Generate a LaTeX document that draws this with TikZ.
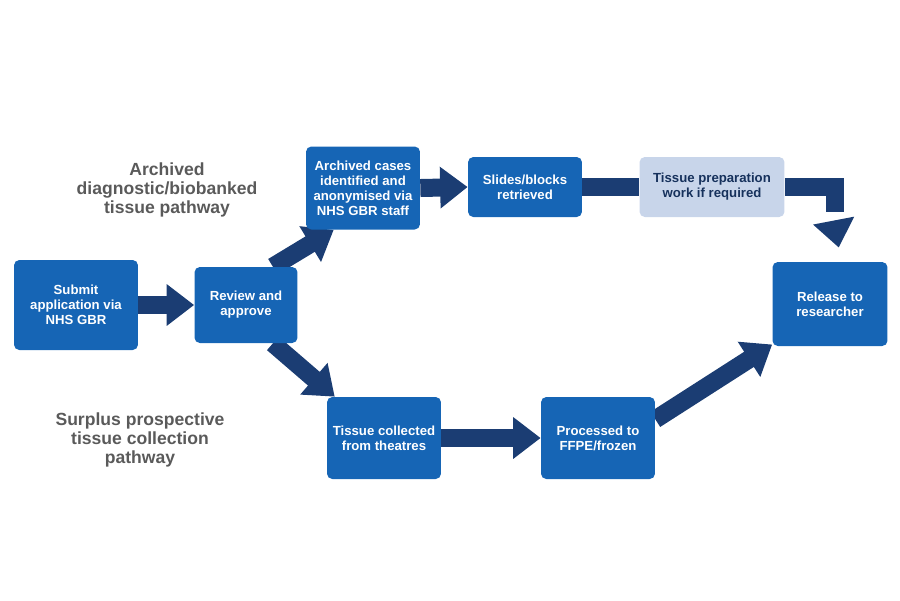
\documentclass[tikz,border=0pt]{standalone}
\usepackage{fontspec}
\setmainfont{Liberation Sans}
\usetikzlibrary{arrows.meta,backgrounds}
\definecolor{boxblue}{HTML}{1665B5}
\definecolor{paleblue}{HTML}{C8D5EA}
\definecolor{navy}{HTML}{1B3D73}
\definecolor{labelgray}{HTML}{5A5A5A}
\tikzset{
  stage/.style={fill=boxblue, text=white, rounded corners=3pt, align=center,
    font=\fontsize{7.5}{8.5}\selectfont\bfseries, inner sep=2pt},
  softstage/.style={stage, fill=paleblue, text=navy!80!black},
  flow/.style={draw=navy, line width=0.36cm,
    -{Triangle[width=0.8cm,length=0.55cm]}},
  flowline/.style={draw=navy, line width=0.36cm},
  pathway/.style={text=labelgray, align=center,
    font=\fontsize{10}{11}\selectfont\bfseries}
}
\begin{document}
\begin{tikzpicture}[x=0.02cm,y=-0.02cm]
\useasboundingbox (0,0) rectangle (900,600);
\node[stage, minimum width=2.48cm, minimum height=1.8cm] (submit) at (76,305)
  {Submit\\application via\\NHS GBR};
\node[stage, minimum width=2.06cm, minimum height=1.52cm] (review) at (246,305)
  {Review and\\approve};
\node[stage, minimum width=2.28cm, minimum height=1.66cm] (archived) at (363,188)
  {Archived cases\\identified and\\anonymised via\\NHS GBR staff};
\node[stage, minimum width=2.28cm, minimum height=1.2cm] (slides) at (525,187)
  {Slides/blocks\\retrieved};
\node[softstage, minimum width=2.9cm, minimum height=1.2cm] (prep) at (712,187)
  {Tissue preparation\\work if required};
\node[stage, minimum width=2.3cm, minimum height=1.68cm] (release) at (830,304)
  {Release to\\researcher};
\node[stage, minimum width=2.28cm, minimum height=1.64cm] (collected) at (384,438)
  {Tissue collected\\from theatres};
\node[stage, minimum width=2.28cm, minimum height=1.64cm] (processed) at (598,438)
  {Processed to\\FFPE/frozen};
\node[pathway] (archivedlabel) at (167,190)
  {Archived\\diagnostic/biobanked\\tissue pathway};
\node[pathway] (surpluslabel) at (140,440)
  {Surplus prospective\\tissue collection\\pathway};
\coordinate (drop) at (835,212);
\begin{scope}[on background layer]
  \draw[flow] (submit.east) -- (review.west);
  \draw[flow] (review.55) -- (archived.235);
  \draw[flow] (archived.east) -- (slides.west);
  \draw[flowline] (slides.east) -- (prep.west);
  \draw[flowline] (prep.east) -| (drop);
  \draw[flow] ([yshift=-9]drop) -- ([xshift=5,yshift=8]release.north);
  \draw[flow] (review.305) -- (collected.140);
  \draw[flow] (collected.east) -- (processed.west);
  \draw[flow] (processed.18) -- (release.215);
\end{scope}
\end{tikzpicture}
\end{document}
